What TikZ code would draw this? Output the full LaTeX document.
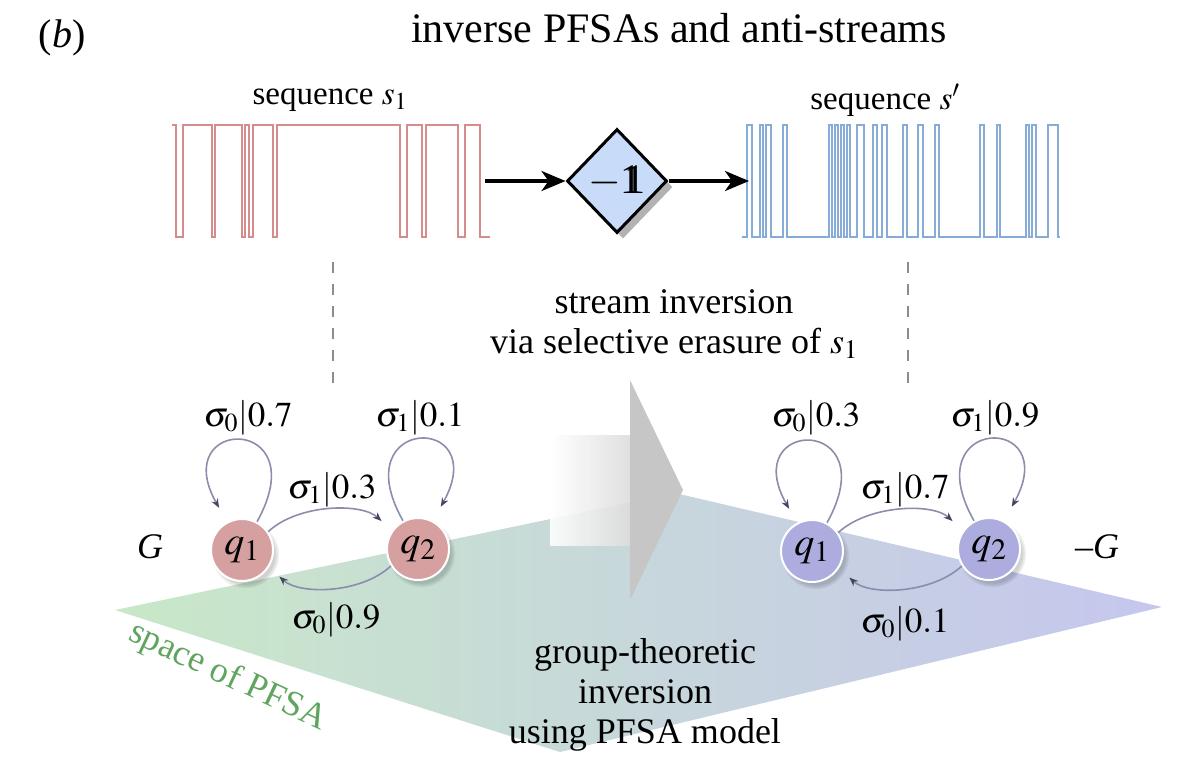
\documentclass[tikz,border=0pt]{standalone}
\usepackage{mathptmx}
\usepackage{fontspec}
\setmainfont{Liberation Serif}
\usetikzlibrary{shapes.geometric,arrows.meta,shadows}
\definecolor{sigred}{RGB}{214,140,140}
\definecolor{sigblue}{RGB}{135,172,215}
\definecolor{nodered}{RGB}{215,160,160}
\definecolor{nodeblue}{RGB}{172,172,222}
\definecolor{edgec}{RGB}{140,140,172}
\definecolor{tipc}{RGB}{70,70,100}
\definecolor{diafill}{RGB}{200,220,250}
\definecolor{planeL}{RGB}{200,232,200}
\definecolor{planeM}{RGB}{206,224,222}
\definecolor{planeR}{RGB}{198,198,238}
\definecolor{pfsagreen}{RGB}{95,165,95}
\definecolor{dashc}{RGB}{140,140,140}
\newcommand{\dblone}{\mbox{\rlap{1}\kern0.09em 1}}
\tikzset{
  state/.style={circle, minimum size=62pt, inner sep=0pt, draw=white, line width=2pt,
    font=\fontsize{40}{40}\selectfont,
    circular drop shadow={shadow xshift=3pt, shadow yshift=-4pt, fill=black, opacity=.18}},
  edge/.style={draw=edgec, line width=1.6pt, -{Stealth[length=9pt,width=7pt,color=tipc]}, shorten >=14pt},
  loopedge/.style={edge, shorten >=16pt},
  lbl/.style={font=\fontsize{35}{35}\selectfont, inner sep=0pt},
  txt/.style={font=\fontsize{33}{38}\selectfont, align=center, inner sep=0pt},
  bigtxt/.style={font=\fontsize{36}{40}\selectfont, align=center, inner sep=0pt},
  dia/.style={diamond, draw=black, line width=3pt, fill=diafill, minimum width=100pt, minimum height=104pt,
    inner sep=0pt, font=\fontsize{42}{42}\selectfont,
    drop shadow={shadow xshift=6pt, shadow yshift=-6pt, fill=black, opacity=.3}},
  bigarrow/.style={line width=3.5pt, -{Stealth[length=24pt,width=20pt,inset=7pt]}},
  dashline/.style={draw=dashc, line width=2.5pt, dash pattern=on 11pt off 11pt},
  redsig/.style={draw=sigred, line width=1.6pt},
  bluesig/.style={draw=sigblue, line width=1.6pt},
}
\begin{document}
\begin{tikzpicture}[x=1pt,y=-1pt]
\useasboundingbox (0,0) rectangle (1201,756);
% plane
\coordinate (pL) at (115,610);
\coordinate (pT) at (675,493);
\coordinate (pR) at (1162,607);
\coordinate (pB) at (560,752);
\shade[left color=planeL, middle color=planeM, right color=planeR] (pL) -- (pT) -- (pR) -- (pB) -- cycle;
% big gray arrow
\shade[left color=white, right color=gray!27, opacity=.9] (550,435) rectangle (630,545);
\fill[gray!45] (630,380) -- (683,490) -- (630,600) -- cycle;
% signals
\draw[redsig] (172,125) \foreach \a/\b in {176/183,212/215,242/245,249/253,273/277,400/407,422/426,458/465}
  { -- (\a,125) -- (\a,237) -- (\b,237) -- (\b,125) } -- (480,125) -- (480,237) -- (490,237);
\draw[bluesig] (742,237) \foreach \a/\b in {747/752,760/763,766/771,783/787,829/832,835/838,841/844,847/850,857/864,873/877,882/887,903/907,918/923,935/939,980/984,997/1000,1026/1029,1032/1036,1048/1058}
  { -- (\a,237) -- (\a,125) -- (\b,125) -- (\b,237) } -- (1060,237);
% diamond and arrows
\coordinate (sL) at (485,181);
\coordinate (sR) at (749,181);
\node[dia] (inv) at (617,181) {$-$\dblone};
\draw[bigarrow] (sL) -- (inv.west);
\draw[bigarrow] (inv.east) -- (sR);
% dashed lines
\coordinate (d1a) at (333,262); \coordinate (d1b) at (333,385);
\coordinate (d2a) at (908,262); \coordinate (d2b) at (908,385);
\draw[dashline] (d1a) -- (d1b);
\draw[dashline] (d2a) -- (d2b);
% texts
\node[font=\fontsize{40}{40}\selectfont] (tag) at (62,38) {(\textit{b})};
\node[font=\fontsize{42}{42}\selectfont] (title) at (679,28) {inverse PFSAs and anti-streams};
\node[txt] (seq1) at (330,100) {sequence $s_1$};
\node[txt] (seq2) at (885,100) {sequence $s'$};
\node[bigtxt] (stream) at (674,324) {stream inversion\\via selective erasure of $s_1$};
\node[bigtxt] (group) at (645,695) {group-theoretic\\inversion\\using PFSA model};
\node[bigtxt, text=pfsagreen, rotate=-25] (space) at (228,677) {space of PFSA};
% left PFSA
\node[state, fill=nodered] (a1) at (242,550) {$q_1$};
\node[state, fill=nodered] (a2) at (418,549) {$q_2$};
\node[bigtxt] (G) at (150,547) {\textit{G}};
\draw[loopedge] (a1.62) .. controls +(60,-108) and +(-60,-106) .. (a1.118);
\draw[loopedge] (a2.118) .. controls +(-60,-106) and +(60,-108) .. (a2.62);
\draw[edge] (a1.35) .. controls +(30,-28) and +(-30,-28) .. (a2.145);
\draw[edge] (a2.212) .. controls +(-30,28) and +(30,28) .. (a1.328);
\node[lbl] (la1) at (248,418) {$\sigma_0|0.7$};
\node[lbl] (la2) at (420,418) {$\sigma_1|0.1$};
\node[lbl] (la3) at (332,490) {$\sigma_1|0.3$};
\node[lbl] (la4) at (336,620) {$\sigma_0|0.9$};
% right PFSA
\node[state, fill=nodeblue] (b1) at (812,551) {$q_1$};
\node[state, fill=nodeblue] (b2) at (989,549) {$q_2$};
\node[bigtxt] (nG) at (1097,547) {–\textit{G}};
\draw[loopedge] (b1.62) .. controls +(60,-108) and +(-60,-106) .. (b1.118);
\draw[loopedge] (b2.118) .. controls +(-60,-106) and +(60,-108) .. (b2.62);
\draw[edge] (b1.35) .. controls +(30,-28) and +(-30,-28) .. (b2.145);
\draw[edge] (b2.212) .. controls +(-30,28) and +(30,28) .. (b1.328);
\node[lbl] (lb1) at (816,418) {$\sigma_0|0.3$};
\node[lbl] (lb2) at (995,418) {$\sigma_1|0.9$};
\node[lbl] (lb3) at (905,490) {$\sigma_1|0.7$};
\node[lbl] (lb4) at (905,624) {$\sigma_0|0.1$};
\end{tikzpicture}
\end{document}
